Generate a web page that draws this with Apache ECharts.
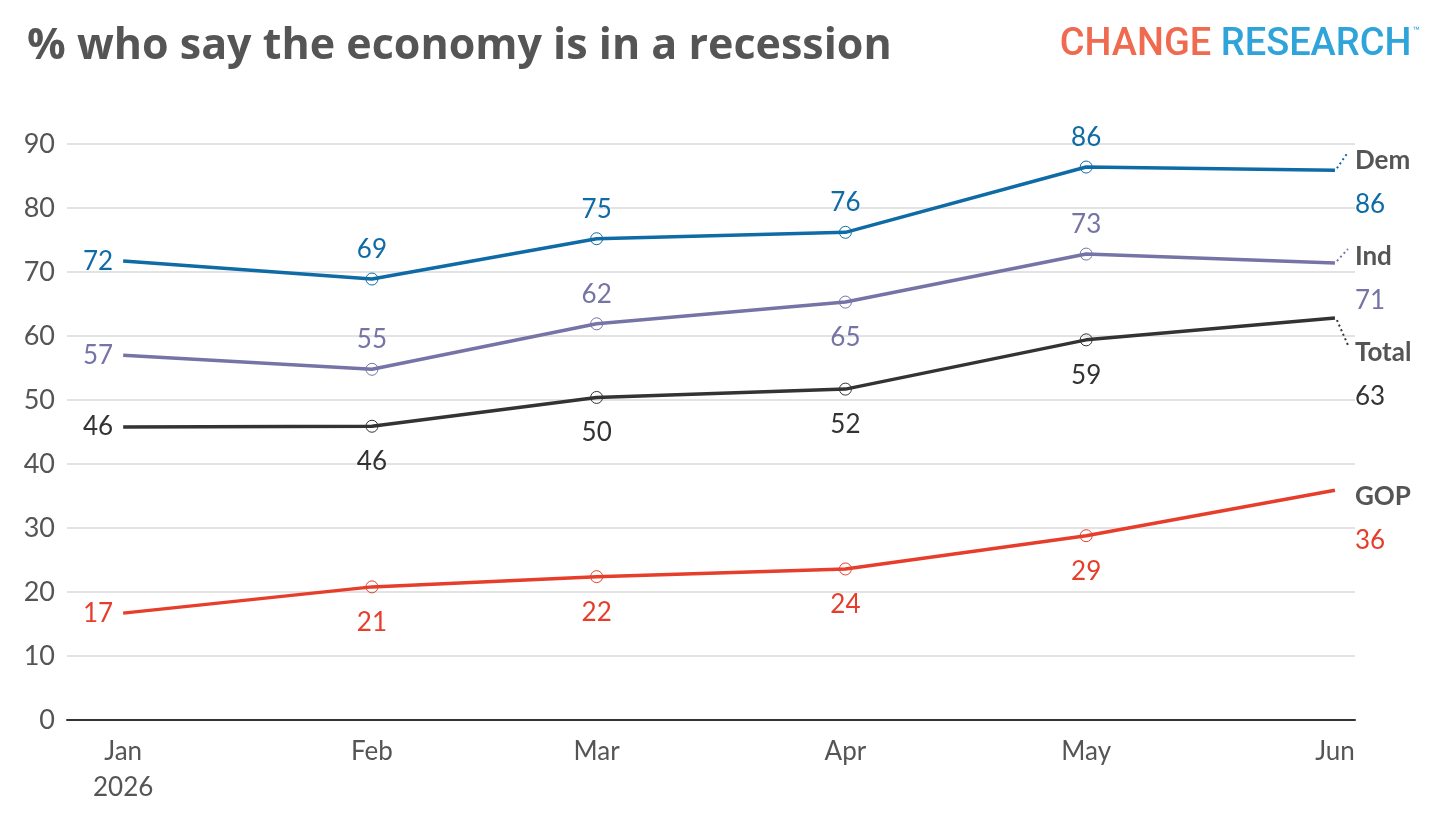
<!DOCTYPE html>
<html>
<head>
<meta charset="utf-8">
<script src="https://cdn.jsdelivr.net/npm/echarts@6/dist/echarts.min.js"></script>
<style>
html,body{margin:0;padding:0;background:#fff;}
#chart{width:1440px;height:822px;}
</style>
</head>
<body>
<div id="chart"></div>
<script>
const months = ['2026-01-01','2026-02-01','2026-03-01','2026-04-01','2026-05-01','2026-06-01'];
const monthNames = ['Jan','Feb','Mar','Apr','May','Jun'];
const yTicks = [0,10,20,30,40,50,60,70,80,90];
const seriesNames = ['Dem','Ind','Total','GOP'];
const dem   = [71.7, 68.9, 75.2, 76.2, 86.4, 85.9];
const ind   = [57.0, 54.8, 61.9, 65.3, 72.8, 71.4];
const total = [45.8, 45.9, 50.4, 51.7, 59.4, 62.8];
const gop   = [16.7, 20.8, 22.4, 23.6, 28.8, 35.9];

const ts = s => Date.parse(s + 'T00:00:00Z');
const monthTs = months.map(ts);
const FONT = 'Lato, "Open Sans", sans-serif';
const styles = {
  Dem:   {color:'#0f6ba6', pos:['left','top','top','top','top'], dy:12, guide:true},
  Ind:   {color:'#7673a6', pos:['left','top','top','bottom','top'], dy:16, guide:true},
  Total: {color:'#333333', pos:['left','bottom','bottom','bottom','bottom'], dy:57, guide:true},
  GOP:   {color:'#e63e2b', pos:['left','bottom','bottom','bottom','bottom'], dy:28, guide:false}
};
const values = {Dem:dem, Ind:ind, Total:total, GOP:gop};

function buildSeries(name){
  const st = styles[name];
  const vals = values[name];
  const last = vals.length - 1;
  const data = vals.map((v,i)=>{
    const item = {value:[monthTs[i], v]};
    if (i === 0 || i === last) item.symbolSize = 0;
    if (i < last) {
      const pos = st.pos[i];
      item.label = {position: pos, distance: i===0 ? 10 : (pos === 'top' ? 10 : 16)};
    } else {
      item.label = {show:false};
    }
    return item;
  });
  return {
    name: name,
    type:'line',
    data: data,
    symbol:'circle',
    symbolSize:12,
    showSymbol:true,
    lineStyle:{color:st.color, width:3.5},
    itemStyle:{color:'rgba(255,255,255,0)', borderColor:st.color, borderWidth:1},
    label:{
      show:true,
      fontFamily:FONT, fontSize:26, color:st.color,
      formatter: p => String(Math.round(p.value[1]))
    },
    emphasis:{disabled:true},
    animation:false,
    z: name === 'Total' ? 3 : 2
  };
}

// End labels (series name + last value) drawn through the axes' coordinate system
const lastIdx = monthTs.length - 1;
const endLabelSeries = {
  type:'custom',
  name:'endLabels',
  silent:true,
  animation:false,
  data: seriesNames.map((n, k) => [monthTs[lastIdx], values[n][lastIdx], k]),
  renderItem: (params, api) => {
    const name = seriesNames[api.value(2)];
    const st = styles[name];
    const pt = api.coord([api.value(0), api.value(1)]);
    const nameY = pt[1] + st.dy - 22;
    const valY = pt[1] + st.dy + 22;
    const children = [
      {type:'text', style:{x: pt[0] + 20, y: nameY, text: name, fill:'#555555',
        font: 'bold 26px ' + FONT, verticalAlign:'middle', align:'left'}},
      {type:'text', style:{x: pt[0] + 20, y: valY, text: String(Math.round(api.value(1))), fill: st.color,
        font: '26px ' + FONT, verticalAlign:'middle', align:'left'}}
    ];
    if (st.guide) {
      const ey = nameY - 8;
      children.push({type:'line', shape:{x1: pt[0] + 2, y1: pt[1] + (ey > pt[1] ? 2 : -2), x2: pt[0] + 13, y2: ey},
        style:{stroke: st.color, lineWidth:2, lineDash:[2,3]}});
    }
    return {type:'group', children};
  },
  z: 5
};

const chart = echarts.init(document.getElementById('chart'));
chart.setOption({
  backgroundColor:'#ffffff',
  animation:false,
  title:{
    text:'% who say the economy is in a recession',
    left:22, top:20,
    textStyle:{fontFamily:'"Open Sans", Lato, sans-serif', fontSize:43, fontWeight:'bold', color:'#555555'}
  },
  graphic:[{
    type:'text', right:20, top:26,
    style:{
      text:'{c|CHANGE }{r|RESEARCH}{t|™}',
      rich:{
        c:{fontFamily:'Roboto, sans-serif', fontSize:38, fontWeight:500, fill:'#f06a50'},
        r:{fontFamily:'Roboto, sans-serif', fontSize:38, fontWeight:500, fill:'#2ea4da'},
        t:{fontFamily:'Roboto, sans-serif', fontSize:12, fill:'#2ea4da', verticalAlign:'top', padding:[0,0,22,1]}
      }
    }
  }],
  grid:{left:67, right:85, top:144, bottom:102, containLabel:false},
  xAxis:{
    type:'value',
    min: ts('2025-12-25'),
    max: ts('2026-06-03') + 12*3600*1000,
    axisLine:{show:true, lineStyle:{color:'#333333', width:2}},
    axisTick:{show:false},
    splitLine:{show:false},
    axisLabel:{
      customValues: monthTs,
      fontFamily:FONT, fontSize:26, color:'#555555', lineHeight:36, margin:14,
      formatter: v => {
        const d = new Date(v);
        const mi = d.getUTCMonth();
        return mi === 0 ? monthNames[mi] + '\n' + d.getUTCFullYear() : monthNames[mi];
      }
    }
  },
  yAxis:{
    type:'value', min:yTicks[0], max:yTicks[yTicks.length-1], interval:10,
    axisLine:{show:false}, axisTick:{show:false},
    splitLine:{lineStyle:{color:'#e3e3e3', width:2}},
    axisLabel:{fontFamily:FONT, fontSize:27, color:'#555555', margin:12}
  },
  series: seriesNames.map(buildSeries).concat([endLabelSeries])
});
</script>
</body>
</html>
